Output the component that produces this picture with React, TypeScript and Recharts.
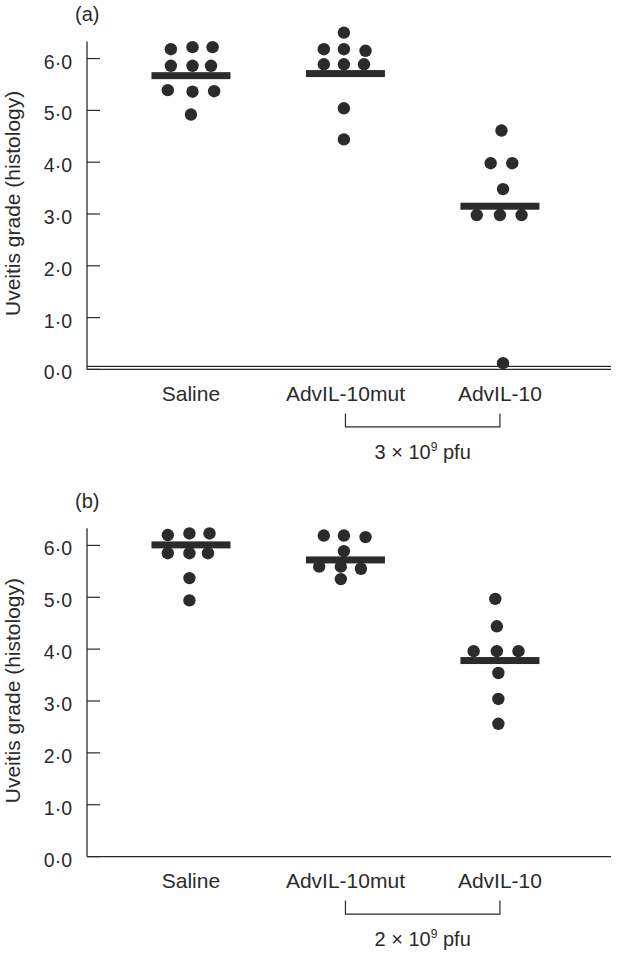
import { ScatterChart, Scatter, XAxis, YAxis, ReferenceLine } from 'recharts';

// categories & axis
const GROUPS = ['Saline', 'AdvIL-10mut', 'AdvIL-10'];
const GROUP_X = [1, 2, 3];
const Y_TICKS = [0, 1, 2, 3, 4, 5, 6];
const Y_AXIS_TOP = 6.33;

// panel (a), 3 x 10^9 pfu — grade values and horizontal jitter (in category units)
const A_SALINE_Y = [6.18, 6.22, 6.22, 5.86, 5.86, 5.86, 5.39, 5.36, 5.37, 4.92];
const A_SALINE_DX = [-0.13, 0.01, 0.14, -0.13, 0.01, 0.13, -0.15, 0.01, 0.15, 0];
const A_MUT_Y = [6.5, 6.18, 6.18, 6.15, 5.89, 5.89, 5.89, 5.04, 4.44];
const A_MUT_DX = [-0.01, -0.14, -0.01, 0.13, -0.14, -0.01, 0.12, -0.01, -0.01];
const A_IL10_Y = [4.61, 3.98, 3.98, 3.48, 2.98, 2.98, 2.98, 0.12];
const A_IL10_DX = [0.01, -0.06, 0.08, 0.02, -0.15, 0, 0.14, 0.02];
const A_MEANS = [5.67, 5.71, 3.15];

// panel (b), 2 x 10^9 pfu
const B_SALINE_Y = [6.2, 6.23, 6.23, 5.85, 5.85, 5.85, 5.37, 4.94];
const B_SALINE_DX = [-0.15, -0.01, 0.12, -0.15, -0.01, 0.11, -0.01, -0.01];
const B_MUT_Y = [6.19, 6.19, 6.16, 5.89, 5.59, 5.59, 5.55, 5.35];
const B_MUT_DX = [-0.14, -0.01, 0.13, -0.01, -0.17, -0.03, 0.1, -0.03];
const B_IL10_Y = [4.97, 4.44, 3.96, 3.96, 3.96, 3.54, 3.04, 2.56];
const B_IL10_DX = [-0.03, -0.02, -0.17, -0.02, 0.12, -0.01, -0.01, -0.01];
const B_MEANS = [6.01, 5.72, 3.78];

// layout
const CHART_W = 618;
const Y_AXIS_W = 87;
const MARGIN_RIGHT = 7;
const X_AXIS_H = 100;
const X_MIN = 0.327;
const X_MAX = 3.719;
const Y_MAX = 6.7;
const PLOT_W = CHART_W - Y_AXIS_W - MARGIN_RIGHT;
const UNIT_PX = PLOT_W / (X_MAX - X_MIN);

const INK = '#2b2b2b';
const FONT = '"Liberation Sans", Arial, Helvetica, sans-serif';

const toPoints = (gx: number, ys: number[], dxs: number[]) =>
  ys.map((y, i) => ({ x: gx + dxs[i], y }));

const fmtGrade = (v: number) => v.toFixed(1).replace('.', '\u00b7');

function YTick({ x, y, payload }: any) {
  return (
    <g>
      <line x1={x} x2={x + 13} y1={y} y2={y} stroke={INK} strokeWidth={1.2} />
      <text x={x - 15} y={y + 10} textAnchor="end" fontSize={19.5} fill={INK} fontFamily={FONT}>
        {fmtGrade(payload.value)}
      </text>
    </g>
  );
}

function makeXTick(dose: string) {
  return function XTick({ x, y, payload, index }: any) {
    const label = GROUPS[GROUP_X.indexOf(payload.value)];
    return (
      <g>
        <text x={x} y={y + 31.5} textAnchor="middle" fontSize={21} fill={INK} fontFamily={FONT}>
          {label}
        </text>
        {index === 1 && (
          <g>
            <path
              d={`M${x},${y + 44}V${y + 57.5}H${x + UNIT_PX}V${y + 44}`}
              fill="none"
              stroke={INK}
              strokeWidth={1.2}
            />
            <text x={x + UNIT_PX / 2} y={y + 89.5} textAnchor="middle" fontSize={20} fill={INK} fontFamily={FONT}>
              <tspan>{dose} × 10</tspan>
              <tspan dy={-8} fontSize={12}>9</tspan>
              <tspan dy={8}> pfu</tspan>
            </text>
          </g>
        )}
      </g>
    );
  };
}

const Dot = (p: any) => <circle cx={p.cx} cy={p.cy} r={6.2} fill={INK} />;
const MeanBar = (p: any) => <rect x={p.cx - 39.5} y={p.cy - 3.5} width={79} height={7} fill={INK} />;

interface PanelProps {
  letter: string;
  dose: string;
  points: { x: number; y: number }[];
  means: number[];
  height: number;
  marginTop: number;
  marginBottom: number;
  doubleBase?: boolean;
}

function Panel({ letter, dose, points, means, height, marginTop, marginBottom, doubleBase }: PanelProps) {
  const meanPts = means.map((m, i) => ({ x: GROUP_X[i], y: m }));
  return (
    <ScatterChart
      width={CHART_W}
      height={height}
      margin={{ top: marginTop, right: MARGIN_RIGHT, bottom: marginBottom, left: 0 }}
    >
      <XAxis
        type="number"
        dataKey="x"
        domain={[X_MIN, X_MAX]}
        ticks={GROUP_X}
        height={X_AXIS_H}
        axisLine={{ stroke: INK, strokeWidth: 1.2 }}
        tickLine={false}
        tickSize={0}
        tickMargin={0}
        tick={makeXTick(dose)}
        interval={0}
      />
      <YAxis
        type="number"
        dataKey="y"
        domain={[0, Y_MAX]}
        ticks={Y_TICKS}
        width={Y_AXIS_W}
        axisLine={false}
        tickLine={false}
        tickSize={0}
        tickMargin={0}
        tick={<YTick />}
        interval={0}
        label={{
          content: ({ viewBox }: any) => {
            const bottom = viewBox.y + viewBox.height;
            const cy = bottom - 166;
            return (
              <g fontFamily={FONT} fill={INK}>
                <text x={75} y={bottom - 348.5} fontSize={20}>({letter})</text>
                <text
                  x={20}
                  y={cy}
                  transform={`rotate(-90, 20, ${cy})`}
                  textAnchor="middle"
                  fontSize={21}
                >
                  Uveitis grade (histology)
                </text>
              </g>
            );
          },
        }}
      />
      <ReferenceLine
        segment={[{ x: X_MIN, y: 0 }, { x: X_MIN, y: Y_AXIS_TOP }]}
        stroke={INK}
        strokeWidth={1.3}
        ifOverflow="visible"
      />
      {doubleBase && (
        <ReferenceLine
          y={0}
          ifOverflow="visible"
          shape={(p: any) => (
            <line x1={p.x1} x2={p.x2} y1={p.y1 - 3} y2={p.y2 - 3} stroke={INK} strokeWidth={1.2} />
          )}
        />
      )}
      <Scatter data={points} shape={Dot} isAnimationActive={false} />
      <Scatter data={meanPts} shape={MeanBar} isAnimationActive={false} />
    </ScatterChart>
  );
}

export default function App() {
  const pointsA = [
    ...toPoints(GROUP_X[0], A_SALINE_Y, A_SALINE_DX),
    ...toPoints(GROUP_X[1], A_MUT_Y, A_MUT_DX),
    ...toPoints(GROUP_X[2], A_IL10_Y, A_IL10_DX),
  ];
  const pointsB = [
    ...toPoints(GROUP_X[0], B_SALINE_Y, B_SALINE_DX),
    ...toPoints(GROUP_X[1], B_MUT_Y, B_MUT_DX),
    ...toPoints(GROUP_X[2], B_IL10_Y, B_IL10_DX),
  ];
  return (
    <div
      style={{
        position: 'absolute',
        left: 0,
        top: 0,
        width: 618,
        height: 961,
        background: '#fff',
        fontFamily: FONT,
      }}
    >
      <Panel
        letter="a"
        dose="3"
        points={pointsA}
        means={A_MEANS}
        height={480}
        marginTop={22.3}
        marginBottom={10.6}
        doubleBase
      />
      <Panel
        letter="b"
        dose="2"
        points={pointsB}
        means={B_MEANS}
        height={481}
        marginTop={29.1}
        marginBottom={4.4}
      />
    </div>
  );
}
